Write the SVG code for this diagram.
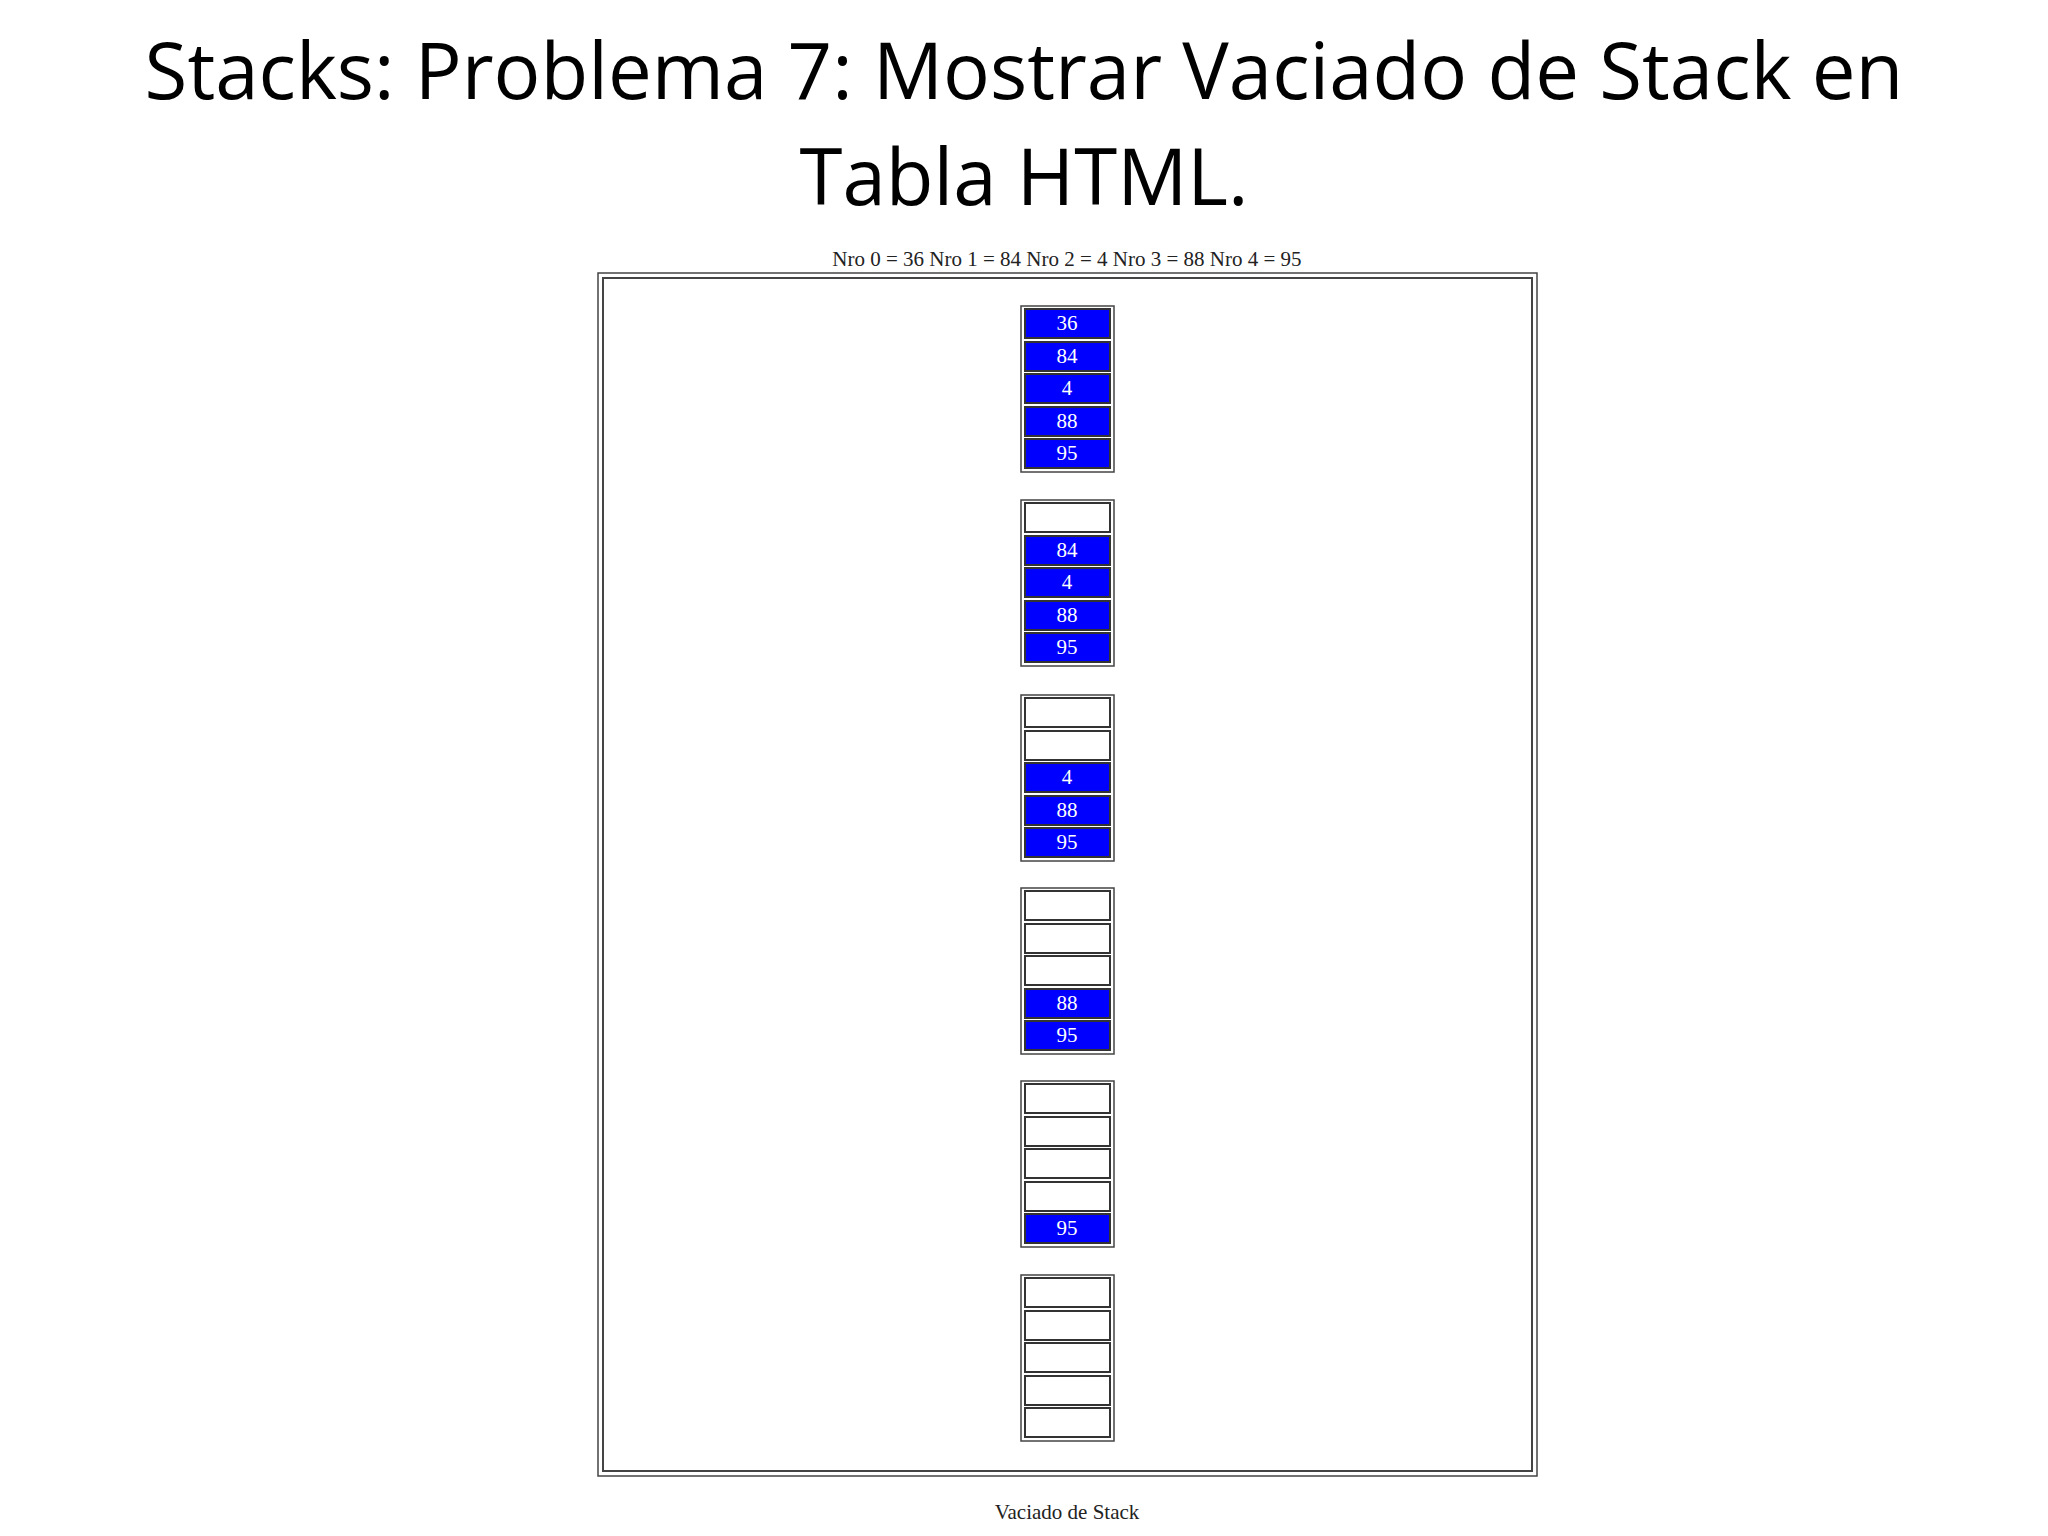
<svg xmlns="http://www.w3.org/2000/svg" width="2048" height="1536" viewBox="0 0 2048 1536">
<style>
.t{font-family:"Open Sans",sans-serif;font-size:78px;fill:#000;text-anchor:middle}
.s{font-family:"Liberation Serif",serif;font-size:21px;fill:#222;text-anchor:middle}
.v{font-family:"Liberation Serif",serif;font-size:21px;fill:#fff;text-anchor:middle}
.box{fill:#fff;stroke:#444;stroke-width:1.5}
.c{fill:#fff;stroke:#333;stroke-width:2}
.b{fill:#0000ff;stroke:#333;stroke-width:2}
</style>
<rect width="2048" height="1536" fill="#fff"/>
<text class="t" x="1024" y="99">Stacks: Problema 7: Mostrar Vaciado de Stack en</text>
<text class="t" x="1024" y="205">Tabla HTML.</text>
<text class="s" x="1067" y="266">Nro 0 = 36 Nro 1 = 84 Nro 2 = 4 Nro 3 = 88 Nro 4 = 95</text>
<g id="outer">
<rect x="598" y="273" width="939" height="1203" fill="none" stroke="#444" stroke-width="1.5"/>
<rect x="603" y="278" width="929" height="1193" fill="none" stroke="#444" stroke-width="2"/>
</g>
<g id="stack1"><rect class="box" x="1021" y="306" width="93" height="166"/>
<rect class="b" x="1025" y="309" width="85" height="29"/><text class="v" x="1067" y="330">36</text>
<rect class="b" x="1025" y="342" width="85" height="29"/><text class="v" x="1067" y="363">84</text>
<rect class="b" x="1025" y="374" width="85" height="29"/><text class="v" x="1067" y="395">4</text>
<rect class="b" x="1025" y="407" width="85" height="29"/><text class="v" x="1067" y="428">88</text>
<rect class="b" x="1025" y="439" width="85" height="29"/><text class="v" x="1067" y="460">95</text></g>
<g id="stack2"><rect class="box" x="1021" y="500" width="93" height="166"/>
<rect class="c" x="1025" y="503" width="85" height="29"/>
<rect class="b" x="1025" y="536" width="85" height="29"/><text class="v" x="1067" y="557">84</text>
<rect class="b" x="1025" y="568" width="85" height="29"/><text class="v" x="1067" y="589">4</text>
<rect class="b" x="1025" y="601" width="85" height="29"/><text class="v" x="1067" y="622">88</text>
<rect class="b" x="1025" y="633" width="85" height="29"/><text class="v" x="1067" y="654">95</text></g>
<g id="stack3"><rect class="box" x="1021" y="695" width="93" height="166"/>
<rect class="c" x="1025" y="698" width="85" height="29"/>
<rect class="c" x="1025" y="731" width="85" height="29"/>
<rect class="b" x="1025" y="763" width="85" height="29"/><text class="v" x="1067" y="784">4</text>
<rect class="b" x="1025" y="796" width="85" height="29"/><text class="v" x="1067" y="817">88</text>
<rect class="b" x="1025" y="828" width="85" height="29"/><text class="v" x="1067" y="849">95</text></g>
<g id="stack4"><rect class="box" x="1021" y="888" width="93" height="166"/>
<rect class="c" x="1025" y="891" width="85" height="29"/>
<rect class="c" x="1025" y="924" width="85" height="29"/>
<rect class="c" x="1025" y="956" width="85" height="29"/>
<rect class="b" x="1025" y="989" width="85" height="29"/><text class="v" x="1067" y="1010">88</text>
<rect class="b" x="1025" y="1021" width="85" height="29"/><text class="v" x="1067" y="1042">95</text></g>
<g id="stack5"><rect class="box" x="1021" y="1081" width="93" height="166"/>
<rect class="c" x="1025" y="1084" width="85" height="29"/>
<rect class="c" x="1025" y="1117" width="85" height="29"/>
<rect class="c" x="1025" y="1149" width="85" height="29"/>
<rect class="c" x="1025" y="1182" width="85" height="29"/>
<rect class="b" x="1025" y="1214" width="85" height="29"/><text class="v" x="1067" y="1235">95</text></g>
<g id="stack6"><rect class="box" x="1021" y="1275" width="93" height="166"/>
<rect class="c" x="1025" y="1278" width="85" height="29"/>
<rect class="c" x="1025" y="1311" width="85" height="29"/>
<rect class="c" x="1025" y="1343" width="85" height="29"/>
<rect class="c" x="1025" y="1376" width="85" height="29"/>
<rect class="c" x="1025" y="1408" width="85" height="29"/></g>
<g id="connectors"/>
<text class="s" x="1067" y="1519">Vaciado de Stack</text>
</svg>
